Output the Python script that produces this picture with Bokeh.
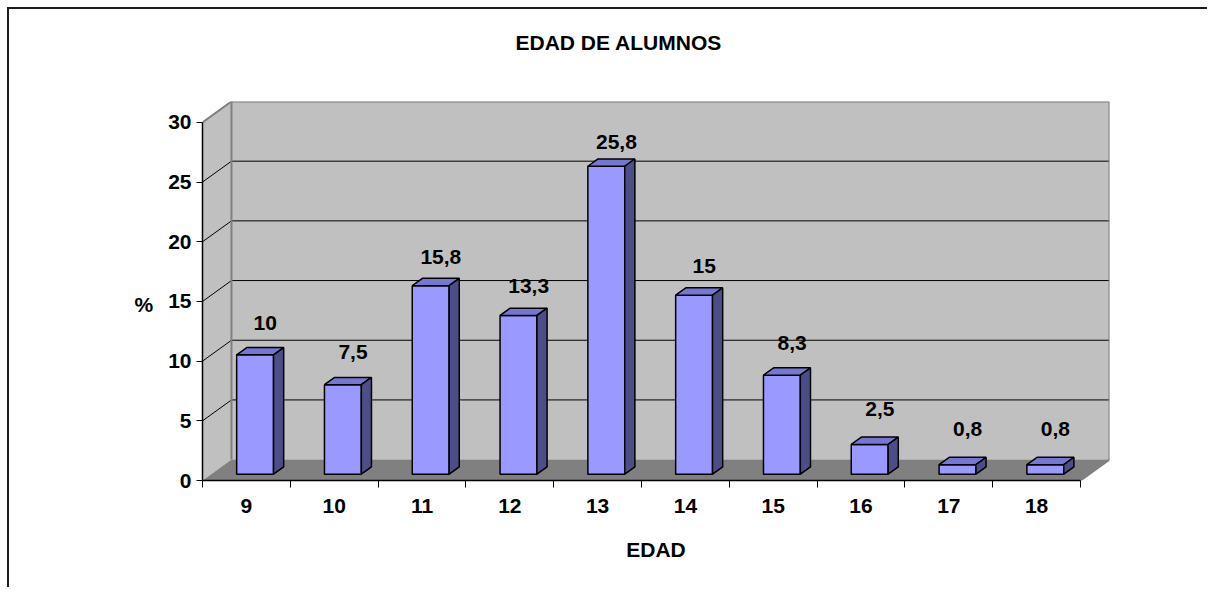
from bokeh.plotting import figure
from bokeh.models import Range1d, FixedTicker
from bokeh.core.properties import value
from bokeh.embed import file_html
from bokeh.resources import INLINE

# ---- data ----
ages = ["9", "10", "11", "12", "13", "14", "15", "16", "17", "18"]
pct = [10, 7.5, 15.8, 13.3, 25.8, 15, 8.3, 2.5, 0.8, 0.8]
y_ticks = [0, 5, 10, 15, 20, 25, 30]
title_text = "EDAD DE ALUMNOS"
x_title = "EDAD"
y_title = "%"

# ---- 3D style constants (in axis units) ----
DX, DY = 0.33, 1.75      # depth offset of back wall
F0, F1 = 0.30, 0.65      # bar depth fractions
BW = 0.42                # bar width
LBL_K, LBL_A = 0.96, 1.17  # data-label placement (perspective of the 3D view)
FONT = "Liberation Sans"
FS = "21px"

n = len(ages)
ymax = y_ticks[-1]

p = figure(width=1200, height=580,
           x_range=Range1d(0, n + DX), y_range=Range1d(0, ymax + DY),
           output_backend="svg", toolbar_location=None,
           min_border_left=193, min_border_right=100,
           min_border_top=92, min_border_bottom=109,
           title=title_text + "\n\n")
p.outline_line_color = None
p.grid.visible = False
p.background_fill_color = "white"
p.border_fill_color = "white"
p.styles = {"margin-left": "7px", "margin-top": "7px",
            "border-top": "2px solid #1e1e1e", "border-left": "2px solid #1e1e1e"}

p.title.align = "left"
p.title.offset = 313
p.title.standoff = 3
p.title.text_font = FONT
p.title.text_font_style = "bold"
p.title.text_font_size = FS
p.title.text_color = "black"

# walls and floor
p.patch([0, DX, DX, 0], [0, DY, ymax + DY, ymax], fill_color="#C0C0C0", line_color=None)
p.patch([DX, n + DX, n + DX, DX], [DY, DY, ymax + DY, ymax + DY], fill_color="#C0C0C0", line_color=None)
p.patch([0, n, n + DX, DX], [0, 0, DY, DY], fill_color="#808080", line_color=None)

# gridlines
gx = [[0, DX, n + DX] for v in y_ticks[1:-1]]
gy = [[v, v + DY, v + DY] for v in y_ticks[1:-1]]
p.multi_line(gx, gy, line_color="black", line_width=1)

# wall edges
p.line([DX, DX], [DY, ymax + DY], line_color="#808080", line_width=2)
p.line([0, DX, n + DX, n + DX, n], [ymax, ymax + DY, ymax + DY, DY, 0], line_color="#808080", line_width=2)

# bars
xf, yf, xt, yt, xs, ys = [], [], [], [], [], []
lx, ly, lt = [], [], []
for i, v in enumerate(pct):
    xl = i + 0.5 - BW / 2
    xr = i + 0.5 + BW / 2
    a0x, a0y = F0 * DX, F0 * DY
    a1x, a1y = F1 * DX, F1 * DY
    xf.append([xl + a0x, xr + a0x, xr + a0x, xl + a0x])
    yf.append([a0y, a0y, v + a0y, v + a0y])
    xt.append([xl + a0x, xr + a0x, xr + a1x, xl + a1x])
    yt.append([v + a0y, v + a0y, v + a1y, v + a1y])
    xs.append([xr + a0x, xr + a1x, xr + a1x, xr + a0x])
    ys.append([a0y, a1y, v + a1y, v + a0y])
    lx.append(i + 0.5 + a1x)
    ly.append(LBL_K * v + a1y + LBL_A)
    lt.append(f"{v:g}".replace(".", ","))

p.patches(xf, yf, fill_color="#9999FF", line_color="black", line_width=1.5)
p.patches(xt, yt, fill_color="#7676D4", line_color="black", line_width=1.5)
p.patches(xs, ys, fill_color="#4D4D88", line_color="black", line_width=1.5)

p.text(lx, ly, text=lt, text_font=value(FONT), text_font_style="bold",
       text_font_size=FS, text_align="center", text_baseline="alphabetic",
       y_offset=-15, text_color="black")

# axes
xa = p.xaxis[0]
xa.ticker = FixedTicker(ticks=[i + 0.5 for i in range(n)], minor_ticks=list(range(n + 1)))
xa.major_label_overrides = {i + 0.5: ages[i] for i in range(n)}
xa.bounds = (0, n)
xa.major_tick_out = 0
xa.major_tick_in = 0
xa.minor_tick_out = 7
xa.minor_tick_in = 0
xa.minor_tick_line_color = "black"
xa.major_label_standoff = 11
xa.axis_label = x_title
xa.axis_label_standoff = 22

ya = p.yaxis[0]
ya.ticker = FixedTicker(ticks=y_ticks, minor_ticks=[])
ya.bounds = (0, ymax)
ya.major_tick_out = 6
ya.major_tick_in = 0
ya.major_label_standoff = 5
ya.axis_label = "\n" + y_title
ya.axis_label_standoff = 12
if "axis_label_orientation" in ya.properties():
    ya.axis_label_orientation = "horizontal"

for ax in (xa, ya):
    ax.axis_line_color = "black"
    ax.axis_line_width = 1.5
    ax.major_tick_line_color = "black"
    ax.major_label_text_font = FONT
    ax.major_label_text_font_style = "bold"
    ax.major_label_text_font_size = FS
    ax.major_label_text_color = "black"
    ax.axis_label_text_font = FONT
    ax.axis_label_text_font_style = "bold"
    ax.axis_label_text_font_size = FS
    ax.axis_label_text_color = "black"

open("out.html", "w").write(file_html(p, INLINE))
